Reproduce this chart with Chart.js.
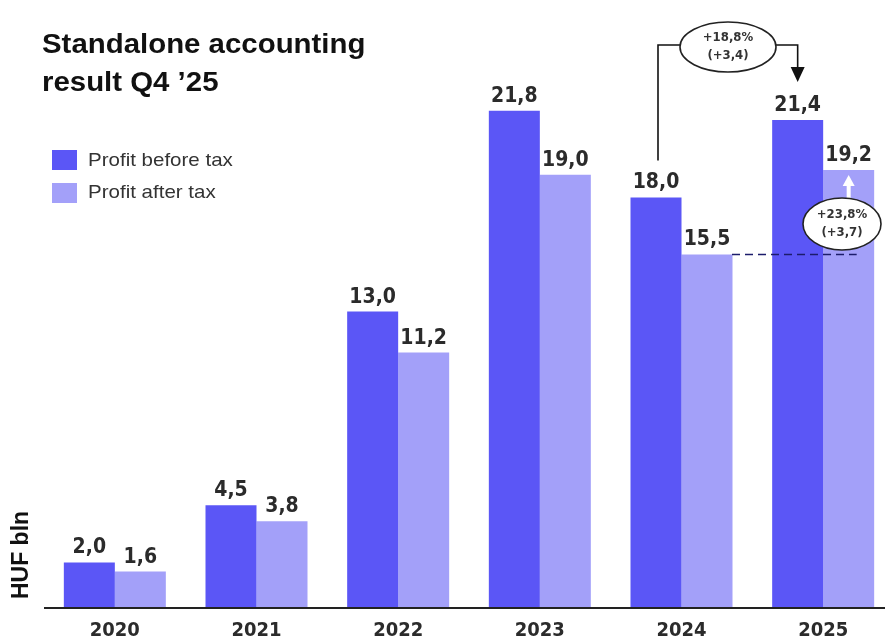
<!DOCTYPE html>
<html>
<head>
<meta charset="utf-8">
<script src="https://cdn.jsdelivr.net/npm/chart.js@4/dist/chart.umd.min.js"></script>
<style>
  html, body { margin: 0; padding: 0; background: #fff; overflow: hidden; }
  #wrap { width: 885px; height: 639px; overflow: hidden; }
</style>
</head>
<body>
<div id="wrap"><canvas id="chart" width="900" height="639"></canvas></div>
<script>
// dados do gráfico
const years = ['2020', '2021', '2022', '2023', '2024', '2025'];
const profitBeforeTax = [2.0, 4.5, 13.0, 21.8, 18.0, 21.4];
const profitAfterTax = [1.6, 3.8, 11.2, 19.0, 15.5, 19.2];
const seriesNames = ['Profit before tax', 'Profit after tax'];
const titleLines = ['Standalone accounting', 'result Q4 \u201925'];
const yAxisTitle = 'HUF bln';
const changePbt = ['+18,8%', '(+3,4)'];
const changePat = ['+23,8%', '(+3,7)'];

const colorDark = '#5b56f6';
const colorLight = '#a3a0f9';
const numFont = 'bold 21px "DejaVu Sans Condensed", "DejaVu Sans", sans-serif';

function fmt(v) {
    return v.toFixed(1).replace('.', ',');
}

// texto esticado na horizontal
function wideText(ctx, txt, x, yy, sx) {
    ctx.save();
    ctx.translate(x, yy);
    ctx.scale(sx, 1);
    ctx.fillText(txt, 0, 0);
    ctx.restore();
}

function ellipse(ctx, cx, cy, rx, ry, lines) {
    ctx.save();
    ctx.beginPath();
    ctx.ellipse(cx, cy, rx, ry, 0, 0, Math.PI * 2);
    ctx.fillStyle = '#fff';
    ctx.fill();
    ctx.lineWidth = 1.6;
    ctx.strokeStyle = '#222';
    ctx.stroke();
    ctx.fillStyle = '#333';
    ctx.font = 'bold 13px "DejaVu Sans Condensed", "DejaVu Sans", sans-serif';
    ctx.textAlign = 'center';
    ctx.textBaseline = 'middle';
    ctx.fillText(lines[0], cx, cy - 9);
    ctx.fillText(lines[1], cx, cy + 9);
    ctx.restore();
}

// desenha textos, legenda e anotações
const extras = {
    id: 'extras',
    afterDatasetsDraw(chart) {
        const ctx = chart.ctx;
        const y = chart.scales.y;
        const area = chart.chartArea;
        const m0 = chart.getDatasetMeta(0).data;
        const m1 = chart.getDatasetMeta(1).data;

        ctx.save();
        // linha base
        ctx.strokeStyle = '#222';
        ctx.lineWidth = 2;
        ctx.beginPath();
        ctx.moveTo(area.left, y.getPixelForValue(0));
        ctx.lineTo(885, y.getPixelForValue(0));
        ctx.stroke();

        // rótulos dos valores
        ctx.fillStyle = '#2b2b2b';
        ctx.font = numFont;
        ctx.textAlign = 'center';
        ctx.textBaseline = 'alphabetic';
        [profitBeforeTax, profitAfterTax].forEach((arr, d) => {
            const els = d === 0 ? m0 : m1;
            arr.forEach((v, i) => {
                ctx.fillText(fmt(v), els[i].x, y.getPixelForValue(v) - 9);
            });
        });

        // anos
        ctx.font = 'bold 20px "DejaVu Sans Condensed", "DejaVu Sans", sans-serif';
        ctx.textBaseline = 'middle';
        years.forEach((yr, i) => {
            const cx = (m0[i].x + m1[i].x) / 2;
            ctx.fillText(yr, cx, 631);
        });

        // título
        ctx.fillStyle = '#111';
        ctx.textAlign = 'left';
        ctx.textBaseline = 'alphabetic';
        ctx.font = 'bold 28px "Liberation Sans", Arial, sans-serif';
        wideText(ctx, titleLines[0], 42, 53, 1.05);
        wideText(ctx, titleLines[1], 42, 91, 1.05);

        // legenda
        ctx.font = '19px "Liberation Sans", Arial, sans-serif';
        ctx.textBaseline = 'middle';
        ctx.fillStyle = colorDark;
        ctx.fillRect(52, 150, 25, 20);
        ctx.fillStyle = colorLight;
        ctx.fillRect(52, 183, 25, 20);
        ctx.fillStyle = '#333';
        wideText(ctx, seriesNames[0], 88, 161, 1.08);
        wideText(ctx, seriesNames[1], 88, 193, 1.08);

        // título do eixo y
        ctx.save();
        ctx.translate(22, 555);
        ctx.rotate(-Math.PI / 2);
        ctx.textAlign = 'center';
        ctx.fillStyle = '#111';
        ctx.font = 'bold 23px "Liberation Sans", Arial, sans-serif';
        ctx.fillText(yAxisTitle, 0, 0);
        ctx.restore();

        // colchete 2024 -> 2025 (antes de impostos)
        const x24 = m0[4].x + 2;
        const x25 = m0[5].x;
        ctx.strokeStyle = '#111';
        ctx.lineWidth = 1.6;
        ctx.beginPath();
        ctx.moveTo(x24, y.getPixelForValue(profitBeforeTax[4]) - 37);
        ctx.lineTo(x24, 45);
        ctx.lineTo(x25, 45);
        ctx.lineTo(x25, 70);
        ctx.stroke();
        ctx.fillStyle = '#111';
        ctx.beginPath();
        ctx.moveTo(x25 - 7, 67);
        ctx.lineTo(x25 + 7, 67);
        ctx.lineTo(x25, 82);
        ctx.closePath();
        ctx.fill();
        ellipse(ctx, 728, 47, 48, 25, changePbt);

        // linha tracejada (depois de impostos)
        const y24 = y.getPixelForValue(profitAfterTax[4]);
        ctx.strokeStyle = '#1c1c6b';
        ctx.lineWidth = 1.6;
        ctx.setLineDash([8, 5]);
        ctx.beginPath();
        ctx.moveTo(m1[4].x + 25, y24);
        ctx.lineTo(m1[5].x + 8, y24);
        ctx.stroke();
        ctx.setLineDash([]);

        // seta branca
        const xa = m1[5].x;
        ctx.fillStyle = '#fff';
        ctx.fillRect(xa - 2, 183, 4, 18);
        ctx.beginPath();
        ctx.moveTo(xa - 6, 186);
        ctx.lineTo(xa + 6, 186);
        ctx.lineTo(xa, 175);
        ctx.closePath();
        ctx.fill();
        ellipse(ctx, 842, 224, 39, 26, changePat);

        ctx.restore();
    }
};

const ctx_chart = document.getElementById('chart').getContext('2d');

const dados = {
    labels: years,
    datasets: [
        {
            label: seriesNames[0],
            data: profitBeforeTax,
            backgroundColor: colorDark
        },
        {
            label: seriesNames[1],
            data: profitAfterTax,
            backgroundColor: colorLight
        }
    ]
};

const conf = {
    responsive: false,
    animation: false,
    layout: {
        padding: { left: 44, right: 6, top: 15, bottom: 31 }
    },
    datasets: {
        bar: {
            barPercentage: 1.0,
            categoryPercentage: 0.72,
            borderWidth: 0
        }
    },
    scales: {
        x: { display: false },
        y: { display: false, min: 0, max: 26 }
    },
    plugins: {
        legend: { display: false },
        tooltip: { enabled: false }
    }
};

const barChart = new Chart(ctx_chart, {
    type: 'bar',
    data: dados,
    options: conf,
    plugins: [extras]
});
</script>
</body>
</html>
